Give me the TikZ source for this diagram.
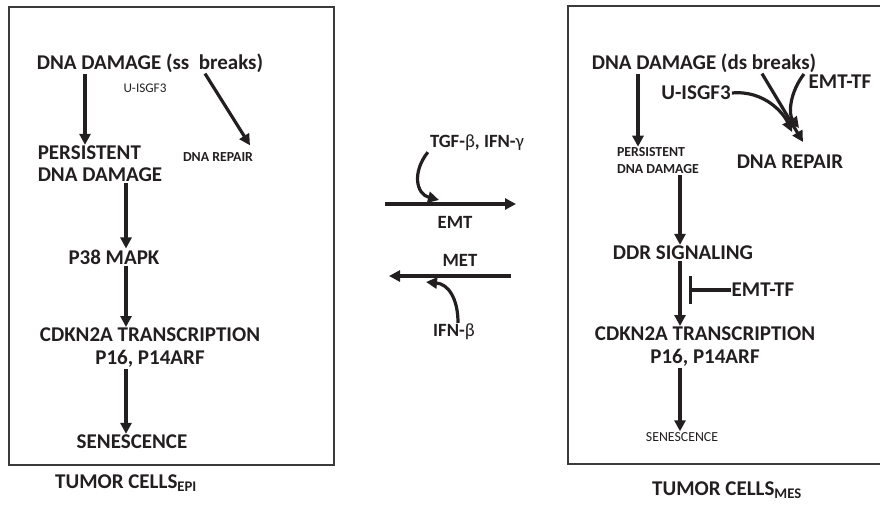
\documentclass[tikz,border=0pt]{standalone}
\usepackage{fontspec}
\setmainfont{Carlito}
\usepackage{tikz}
\usetikzlibrary{arrows.meta}
\definecolor{ckink}{HTML}{231F20}
\definecolor{ckframe}{HTML}{3A3A3A}
\tikzset{
  bigLabel/.style={font=\bfseries\fontsize{21}{23}\selectfont, text=ckink, align=center, inner sep=1pt},
  smallLabel/.style={font=\bfseries\fontsize{13.8}{17}\selectfont, text=ckink, align=left, inner sep=1pt},
  plainLabel/.style={font=\fontsize{13.8}{15}\selectfont, text=ckink, inner sep=1pt},
  midLabel/.style={font=\bfseries\fontsize{18.7}{20}\selectfont, text=ckink, inner sep=1pt},
  cellFrame/.style={draw=ckframe, line width=1.8pt},
  stepArrow/.style={-{Triangle[length=11pt,width=11pt]}, line width=3.2pt, draw=ckink},
  blockLine/.style={-{Bar[width=28pt]}, line width=3.2pt, draw=ckink}
}

\begin{document}
\begin{tikzpicture}[x=1pt, y=-1pt]
  \useasboundingbox (0,0) rectangle (880,504);

  % cell frames
  \draw[cellFrame] (9,7) rectangle (334,465);
  \draw[cellFrame] (884,6) -| (568,464) -- (884,464);

  % epithelial side
  \node[bigLabel] (dmgL) at (150,63) {DNA DAMAGE (ss\ \ breaks)};
  \node[plainLabel, font=\fontsize{13.2}{14}\selectfont] (uisL) at (145,88) {U-ISGF3};
  \node[bigLabel, align=left, font=\bfseries\fontsize{21}{22}\selectfont] (persL) at (100,164) {PERSISTENT\\DNA DAMAGE};
  \node[smallLabel] (repL) at (218,157) {DNA REPAIR};
  \node[bigLabel] (p38) at (114,257) {P38 MAPK};
  \node[bigLabel] (cdknL) at (150,348) {CDKN2A TRANSCRIPTION\\P16, P14ARF};
  \node[bigLabel] (senL) at (132,442) {SENESCENCE};
  \node[bigLabel] (tumorL) at (126,483) {TUMOR CELLS\textsubscript{EPI}};

  \coordinate (colA) at (85,0);
  \coordinate (colL) at (126,0);
  \draw[stepArrow] (dmgL.south -| colA) -- (persL.north -| colA);
  \draw[stepArrow] ([xshift=55pt]dmgL.south) -- ([xshift=32pt,yshift=6pt]repL.north);
  \draw[stepArrow] (persL.south -| colL) -- (p38.north -| colL);
  \draw[stepArrow] (p38.south -| colL) -- (cdknL.north -| colL);
  \draw[stepArrow] (cdknL.south -| colL) -- (senL.north -| colL);

  % switching between states
  \node[midLabel] (tgf) at (477,143) {TGF-{\mdseries β}, IFN-{\mdseries γ}};
  \node[midLabel] (emtLbl) at (455,222) {EMT};
  \node[midLabel] (metLbl) at (460,260) {MET};
  \node[midLabel] (ifnb) at (454,332) {IFN-{\mdseries β}};
  \coordinate (emtFrom) at (385,204);
  \coordinate (emtTo) at (516,204);
  \coordinate (metFrom) at (511,276);
  \coordinate (metTo) at (389,276);
  \draw[stepArrow] (emtFrom) -- (emtTo);
  \draw[stepArrow] (metFrom) -- (metTo);
  \draw[stepArrow] ([xshift=-1pt]tgf.south west) .. controls (412,172) and (416,194) .. (439,200);
  \draw[stepArrow] ([xshift=4pt]ifnb.north) .. controls (458,298) and (448,284) .. (426,282);

  % mesenchymal side
  \node[bigLabel] (dmgR) at (704,63) {DNA DAMAGE (ds breaks)};
  \node[bigLabel] (tfTop) at (840,82) {EMT-TF};
  \node[bigLabel] (uisR) at (696,93) {U-ISGF3};
  \node[smallLabel] (persR) at (658,161) {PERSISTENT\\DNA DAMAGE};
  \node[bigLabel] (repR) at (790,162) {DNA REPAIR};
  \node[bigLabel] (ddr) at (683,253) {DDR SIGNALING};
  \node[bigLabel] (tfLow) at (763,290) {EMT-TF};
  \node[bigLabel] (cdknR) at (705,347) {CDKN2A TRANSCRIPTION\\P16, P14ARF};
  \node[plainLabel] (senR) at (682,437) {SENESCENCE};
  \node[bigLabel] (tumorR) at (727,490) {TUMOR CELLS\textsubscript{MES}};

  \coordinate (colB) at (638,0);
  \coordinate (colR) at (680,0);
  \coordinate (hubA) at (803,142);
  \coordinate (hubB) at (792,132);
  \coordinate (hubC) at (799,128);
  \coordinate (block) at (689,290);
  \draw[stepArrow] (dmgR.south -| colB) -- (persR.north -| colB);
  \draw[stepArrow] ([xshift=58pt]dmgR.south) -- (hubA);
  \draw[stepArrow] (uisR.east) .. controls (765,90) and (784,114) .. (hubB);
  \draw[stepArrow] ([xshift=-36pt]tfTop.north) .. controls (790,92) and (788,114) .. (hubC);
  \draw[stepArrow] (persR.south -| colR) -- (ddr.north -| colR);
  \draw[stepArrow] (ddr.south -| colR) -- (cdknR.north -| colR);
  \draw[blockLine] (tfLow.west) -- (block);
  \draw[stepArrow] (cdknR.south -| colR) -- (senR.north -| colR);
\end{tikzpicture}
\end{document}
